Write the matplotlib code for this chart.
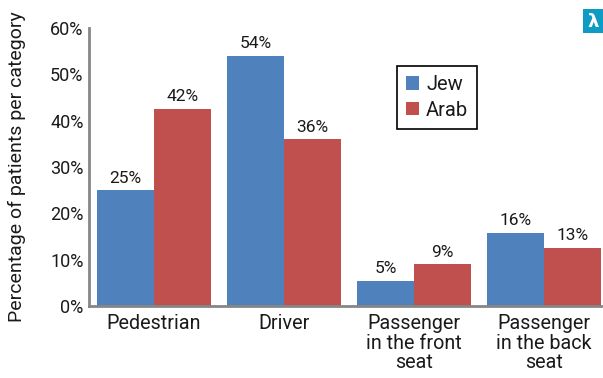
"""Share of patients per road-user category, Jew vs Arab."""
import matplotlib
matplotlib.use("Agg")
import matplotlib.pyplot as plt
import numpy as np
from matplotlib.patches import Rectangle

CATEGORIES = ["Pedestrian", "Driver", "Passenger\nin the front\nseat", "Passenger\nin the back\nseat"]
JEW = [25, 54, 5.4, 15.8]
ARAB = [42.5, 36, 9, 12.5]
JEW_LABELS = ["25%", "54%", "5%", "16%"]
ARAB_LABELS = ["42%", "36%", "9%", "13%"]

BLUE = "#4f81bd"
RED = "#c0504d"
W, H = 603, 378

plt.rcParams["font.family"] = ["Roboto", "DejaVu Sans"]

fig = plt.figure(figsize=(W / 100, H / 100), dpi=100)
left, right, top, bottom = 89, 601, 28, 306
ax = fig.add_axes([left / W, 1 - bottom / H, (right - left) / W, (bottom - top) / H])

x = np.arange(len(CATEGORIES))
bar_width = 57 / 130
blue_bars = ax.bar(x - bar_width / 2, JEW, bar_width, color=BLUE, label="Jew")
red_bars = ax.bar(x + bar_width / 2, ARAB, bar_width, color=RED, label="Arab")

for bars, labels in ((blue_bars, JEW_LABELS), (red_bars, ARAB_LABELS)):
    for bar, label in zip(bars, labels):
        ax.text(bar.get_x() + bar.get_width() / 2, bar.get_height() + 1, label,
                ha="center", va="bottom", fontsize=12.5, color="#1a1a1a")

ax.set_xlim(-65 / 130, -65 / 130 + (right - left) / 130)
ax.set_ylim(0, 60)
ax.set_yticks(range(0, 61, 10))
ax.set_yticklabels([f"{v}%" for v in range(0, 61, 10)], fontsize=13, color="#1a1a1a")
ax.set_xticks(x)
ax.set_xticklabels(CATEGORIES, fontsize=14.2, color="#1a1a1a", linespacing=1.02)
ax.tick_params(axis="both", length=0, pad=4)
ax.tick_params(axis="x", pad=6)
ax.set_ylabel("Percentage of patients per category", fontsize=14, color="#1a1a1a", labelpad=17)

for side in ("top", "right"):
    ax.spines[side].set_visible(False)
for side in ("left", "bottom"):
    ax.spines[side].set_color("#868686")
    ax.spines[side].set_linewidth(2)

ax.legend(loc="upper left", bbox_to_anchor=((397 - left) / (right - left), 1 - (66 - top) / (bottom - top)),
          borderaxespad=0, fontsize=14.5, fancybox=False, framealpha=1, edgecolor="black",
          handlelength=0.65, handleheight=0.65, handletextpad=0.35, labelspacing=0.32,
          borderpad=0.45, labelcolor="#1a1a1a").get_frame().set_linewidth(1.2)

# journal badge in the corner
fig.add_artist(Rectangle((583 / W, 1 - 33 / H), 20 / W, 24 / H, transform=fig.transFigure,
                         color="#0f9bc4", lw=0))
fig.text(593 / W, 1 - 22 / H, "λ", color="white", fontsize=13, fontweight="bold",
         ha="center", va="center", family=["DejaVu Sans"])

fig.savefig("out.png", dpi=100)
